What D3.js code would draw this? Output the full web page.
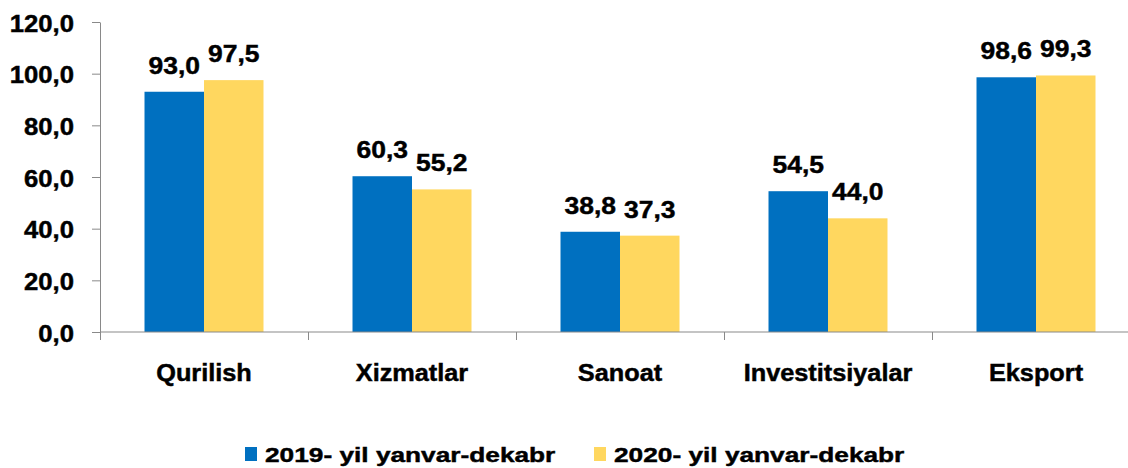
<!DOCTYPE html>
<html>
<head>
<meta charset="utf-8">
<script src="https://cdn.jsdelivr.net/npm/d3@7"></script>
<style>
  body { margin: 0; background: #fff; }
  svg { display: block; font-family: 'Liberation Sans', Arial, sans-serif; font-weight: bold; }
  svg text { stroke: #000; stroke-width: 0.45px; }
</style>
</head>
<body>
<svg id="chart" width="1128" height="468"></svg>
<script>
// categories and series
var categories = ['Qurilish', 'Xizmatlar', 'Sanoat', 'Investitsiyalar', 'Eksport']
var seriesNames = ['2019- yil yanvar-dekabr', '2020- yil yanvar-dekabr']
var values2019 = [93.0, 60.3, 38.8, 54.5, 98.6]
var values2020 = [97.5, 55.2, 37.3, 44.0, 99.3]
var yTicks = [0, 20, 40, 60, 80, 100, 120]
var colors = ['#0070C0', '#FFD75F']

var svg = d3.select('#chart')
var W = 1128
var axisGrey = '#898989'

// plot area (window.top is reserved, so no "top" here)
var plotLeft = 100
var plotRight = 1140
var plotTop = 22
var plotBottom = 332

var fmt = function (d) { return d3.format('.1f')(d).replace('.', ',') }

var x0 = d3.scaleBand().domain(categories).range([plotLeft, plotRight]).padding(0)
var x1 = d3.scaleBand().domain([0, 1]).range([0, x0.bandwidth()])
  .paddingInner(0).paddingOuter(0.748)
var y = d3.scaleLinear().domain([0, 120]).range([plotBottom, plotTop])

var series = [values2019, values2020]

// bars
var groups = svg.selectAll('g.cat')
  .data(categories)
  .enter()
  .append('g')
  .attr('class', 'cat')
  .attr('transform', function (d) { return 'translate(' + x0(d) + ',0)' })

groups.selectAll('rect')
  .data(function (d, i) { return series.map(function (s, k) { return {k: k, v: s[i]} }) })
  .enter()
  .append('rect')
  .attr('x', function (d) { return x1(d.k) })
  .attr('width', x1.bandwidth())
  .attr('y', function (d) { return y(d.v) })
  .attr('height', function (d) { return y(0) - y(d.v) })
  .attr('fill', function (d) { return colors[d.k] })

// value labels
groups.selectAll('text.val')
  .data(function (d, i) { return series.map(function (s, k) { return {k: k, v: s[i]} }) })
  .enter()
  .append('text')
  .attr('class', 'val')
  .attr('text-anchor', 'middle')
  .attr('font-size', 24.5)
  .attr('fill', '#000')
  .attr('transform', function (d) {
    return 'translate(' + (x1(d.k) + x1.bandwidth() / 2) + ',' + (y(d.v) - 18) + ') scale(1.08,1)'
  })
  .text(function (d) { return fmt(d.v) })

// y axis
var yAxisG = svg.append('g')
  .attr('transform', 'translate(' + plotLeft + ',0)')
  .call(d3.axisLeft(y).tickValues(yTicks).tickFormat(fmt).tickSize(8).tickSizeOuter(0))
yAxisG.select('.domain').attr('stroke', axisGrey)
yAxisG.selectAll('.tick line').attr('stroke', axisGrey)
yAxisG.selectAll('.tick text')
  .attr('x', null)
  .attr('dy', null)
  .attr('font-size', 24)
  .attr('fill', '#000')
  .attr('transform', 'translate(-26,9) scale(1.07,1)')
yAxisG.attr('font-family', null).attr('font-size', null)

// x axis line with ticks between categories
var xAxisG = svg.append('g')
xAxisG.append('line')
  .attr('x1', plotLeft).attr('x2', W)
  .attr('y1', plotBottom).attr('y2', plotBottom)
  .attr('stroke', axisGrey)
xAxisG.selectAll('line.tk')
  .data(categories)
  .enter()
  .append('line')
  .attr('class', 'tk')
  .attr('x1', function (d) { return Math.round(x0(d)) + 0.5 })
  .attr('x2', function (d) { return Math.round(x0(d)) + 0.5 })
  .attr('y1', plotBottom)
  .attr('y2', plotBottom + 8)
  .attr('stroke', axisGrey)

// category labels
xAxisG.selectAll('text')
  .data(categories)
  .enter()
  .append('text')
  .attr('text-anchor', 'middle')
  .attr('font-size', 23)
  .attr('fill', '#000')
  .attr('transform', function (d) {
    return 'translate(' + (x0(d) + x0.bandwidth() / 2) + ',381) scale(1.1,1)'
  })
  .text(function (d) { return d })

// legend
var legendX = [245, 594]
var legend = svg.selectAll('g.leg')
  .data(seriesNames)
  .enter()
  .append('g')
  .attr('class', 'leg')
  .attr('transform', function (d, i) { return 'translate(' + legendX[i] + ',0)' })
legend.append('rect')
  .attr('x', 0).attr('y', 447)
  .attr('width', 12).attr('height', 14)
  .attr('fill', function (d, i) { return colors[i] })
legend.append('text')
  .attr('font-size', 21)
  .attr('fill', '#000')
  .attr('transform', 'translate(20,462) scale(1.25,1)')
  .text(function (d) { return d })
</script>
</body>
</html>
